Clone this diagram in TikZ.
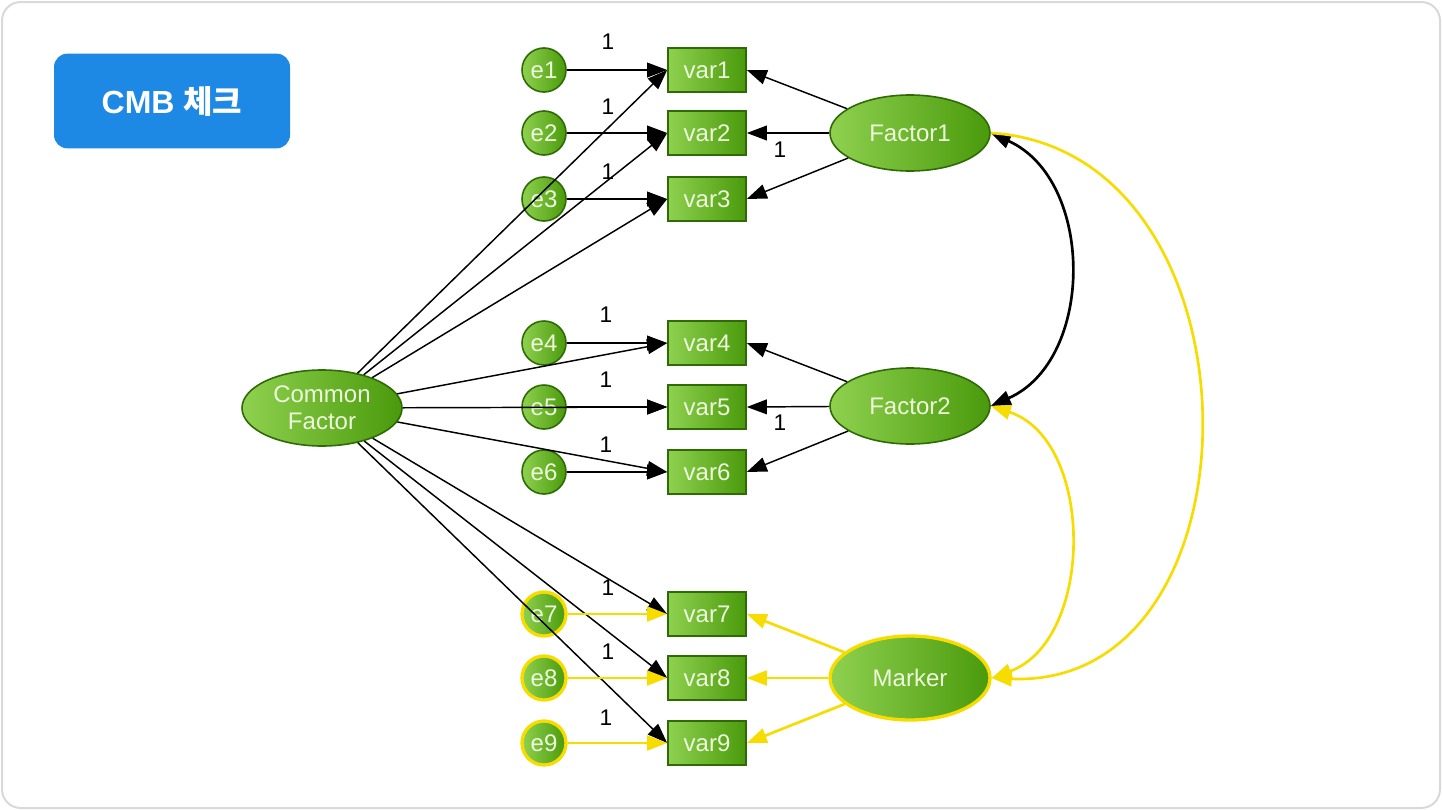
\documentclass[tikz,border=0pt]{standalone}
\usepackage{fontspec}
\setmainfont{Liberation Sans}
\newfontfamily\cjk{Noto Sans CJK KR}
\usetikzlibrary{arrows.meta,shapes.geometric}
\definecolor{gl}{HTML}{8FD14F}
\definecolor{gd}{HTML}{4A9A0C}
\definecolor{gb}{HTML}{2E6B05}
\definecolor{yl}{HTML}{F7DC00}
\definecolor{tx}{HTML}{EEF8DD}
\definecolor{bl}{HTML}{1E88E5}
\begin{document}
\begin{tikzpicture}[x=0.75pt,y=-0.75pt,
  box/.style={draw=gb,line width=1.2pt,left color=gl,right color=gd,minimum width=58.5pt,minimum height=33pt,inner sep=0pt,text=tx,font=\fontsize{18}{18}\selectfont},
  err/.style={circle,draw=gb,line width=1.2pt,left color=gl,right color=gd,minimum size=33pt,inner sep=0pt,text=tx,font=\fontsize{18}{18}\selectfont},
  lat/.style={ellipse,draw=gb,line width=1.2pt,left color=gl,right color=gd,minimum width=120pt,minimum height=57pt,inner sep=0pt,text=tx,font=\fontsize{18}{20}\selectfont,align=center},
  ar/.style={-{Triangle[length=15pt,width=11pt]},line width=1.1pt,black},
  ya/.style={-{Triangle[length=15pt,width=11pt]},line width=2pt,yl},
  one/.style={font=\fontsize{17}{17}\selectfont,inner sep=0pt}]
\useasboundingbox (0,0) rectangle (1442,810);
\draw[draw=black!15,line width=1.5pt,rounded corners=14pt,fill=white] (2,2) rectangle (1440,808);
\node[fill=bl,rounded corners=10pt,minimum width=177pt,minimum height=71pt,text=white,font=\bfseries\fontsize{24}{24}\selectfont] (t) at (172,101) {CMB {\cjk 체크}};
% variables
\foreach \i/\y in {1/70,2/133,3/199,4/343,5/407,6/472,7/614,8/678,9/743}{
  \node[box] (v\i) at (707,\y) {var\i};
}
\foreach \i/\y in {1/70,2/133,3/199,4/343,5/407,6/472}{
  \node[err] (e\i) at (544,\y) {e\i};
}
\foreach \i/\y in {7/614,8/678,9/743}{
  \node[err,draw=yl,line width=2.5pt] (e\i) at (544,\y) {e\i};
}
\node[lat] (cf) at (322,408) {Common\\Factor};
\node[lat] (f1) at (910,133) {Factor1};
\node[lat] (f2) at (910,406) {Factor2};
\node[lat,draw=yl,line width=2.5pt,minimum height=63pt] (mk) at (910,678) {Marker};
% common factor paths
\foreach \i in {1,...,9}{ \draw[ar] (cf) -- (v\i.west); }
\foreach \i in {1,...,6}{ \draw[ar] (e\i) -- (v\i); }
\foreach \i in {7,8,9}{ \draw[ya] (e\i) -- (v\i); }
\foreach \i in {1,2,3}{ \draw[ar] (f1) -- (v\i.east); }
\foreach \i in {4,5,6}{ \draw[ar] (f2) -- (v\i.east); }
\foreach \i in {7,8,9}{ \draw[ya] (mk) -- (v\i.east); }
% labels
\foreach \x/\y [count=\k] in {608/42,608/107,608/172,606/315,606/380,606/445,608/588,608/652,606/718}{
  \node[one] (l\k) at (\x,\y) {1};
}
\node[one] (m1) at (780,150) {1};
\node[one] (m2) at (780,423) {1};
% covariances
\draw[{Triangle[length=15pt,width=11pt]}-{Triangle[length=15pt,width=11pt]},line width=2pt] (f1.east) .. controls (1095,180) and (1095,360) .. (f2.east);
\draw[ya] (f1.east) .. controls (1270,150) and (1270,690) .. (mk.east);
\draw[{Triangle[length=15pt,width=11pt]}-{Triangle[length=15pt,width=11pt]},line width=2pt,yl] (f2.east) .. controls (1095,440) and (1095,640) .. (mk.east);
\end{tikzpicture}
\end{document}
